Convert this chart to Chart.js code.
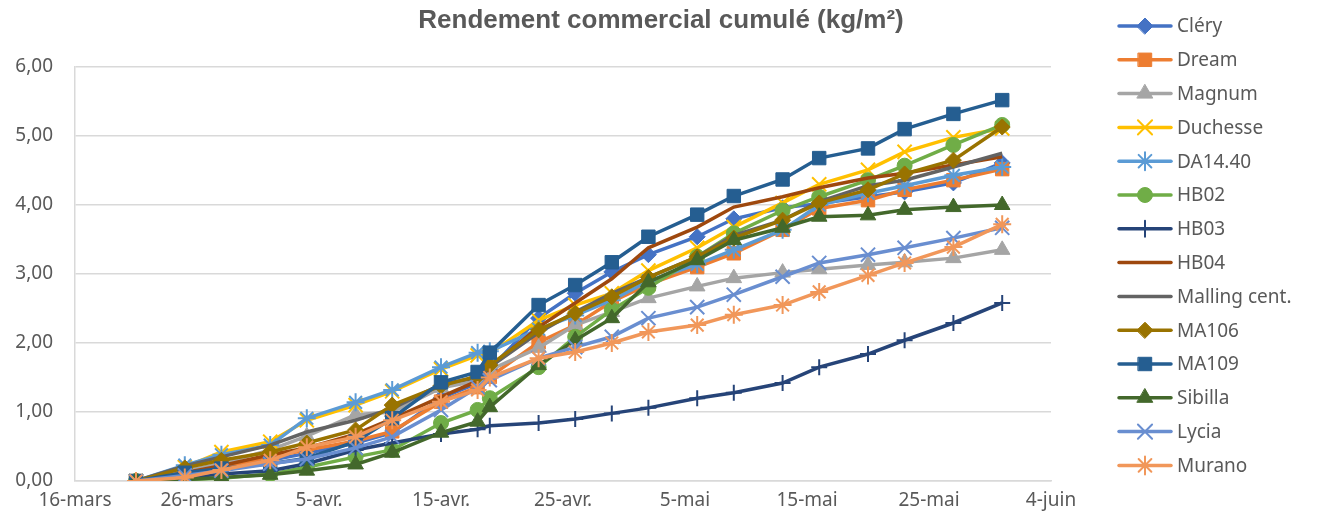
<!DOCTYPE html>
<html>
<head>
<meta charset="utf-8">
<script src="https://cdn.jsdelivr.net/npm/chart.js@4.4.1/dist/chart.umd.min.js"></script>
<style>
  html, body { margin: 0; padding: 0; background: #fff; }
  #wrap { width: 1317px; height: 526px; }
</style>
</head>
<body>
<div id="wrap"><canvas id="chart"></canvas></div>
<script>
// Dates de récolte
const dates = ['2019-03-21', '2019-03-25', '2019-03-28', '2019-04-01', '2019-04-04', '2019-04-08',
               '2019-04-11', '2019-04-15', '2019-04-18', '2019-04-19', '2019-04-23', '2019-04-26',
               '2019-04-29', '2019-05-02', '2019-05-06', '2019-05-09', '2019-05-13', '2019-05-16',
               '2019-05-20', '2019-05-23', '2019-05-27', '2019-05-31'];
const xTickLabels = ['16-mars', '26-mars', '5-avr.', '15-avr.', '25-avr.', '5-mai', '15-mai', '25-mai', '4-juin'];
const yTicks = [0, 1, 2, 3, 4, 5, 6];

// Rendement cumulé (kg/m²) par variété
const clery    = [0, 0.10, 0.22, 0.30, 0.40, 0.55, 0.70, 1.20, 1.42, 1.62, 2.36, 2.72, 3.03, 3.28, 3.54, 3.80, 3.96, 4.02, 4.12, 4.19, 4.32, 4.61];
const dream    = [0, 0.08, 0.20, 0.35, 0.45, 0.58, 0.72, 1.15, 1.36, 1.51, 2.01, 2.26, 2.60, 2.85, 3.10, 3.30, 3.64, 3.95, 4.07, 4.22, 4.36, 4.52];
const magnum   = [0, 0.15, 0.25, 0.45, 0.65, 0.96, 1.00, 1.35, 1.45, 1.61, 1.93, 2.26, 2.45, 2.65, 2.82, 2.94, 3.02, 3.07, 3.13, 3.17, 3.23, 3.35];
const duchesse = [0, 0.20, 0.42, 0.57, 0.88, 1.10, 1.30, 1.62, 1.82, 1.85, 2.33, 2.55, 2.72, 3.05, 3.38, 3.68, 4.03, 4.30, 4.51, 4.77, 4.98, 5.11];
const da1440   = [0, 0.23, 0.38, 0.52, 0.91, 1.14, 1.32, 1.65, 1.86, 1.88, 2.20, 2.40, 2.62, 2.90, 3.14, 3.35, 3.64, 4.00, 4.17, 4.28, 4.43, 4.55];
const hb02     = [0, 0.02, 0.04, 0.10, 0.20, 0.35, 0.45, 0.84, 1.03, 1.20, 1.65, 2.09, 2.48, 2.80, 3.25, 3.59, 3.92, 4.12, 4.36, 4.57, 4.87, 5.16];
const hb03     = [0, 0.05, 0.10, 0.15, 0.25, 0.45, 0.55, 0.68, 0.75, 0.80, 0.84, 0.90, 0.98, 1.06, 1.20, 1.28, 1.42, 1.65, 1.84, 2.04, 2.29, 2.58];
const hb04     = [0, 0.12, 0.22, 0.38, 0.48, 0.68, 0.90, 1.22, 1.45, 1.65, 2.23, 2.58, 2.93, 3.38, 3.68, 3.97, 4.12, 4.25, 4.39, 4.46, 4.58, 4.70];
const malling  = [0, 0.22, 0.35, 0.52, 0.71, 0.88, 1.05, 1.40, 1.50, 1.65, 2.15, 2.45, 2.72, 2.95, 3.25, 3.56, 3.78, 4.05, 4.28, 4.36, 4.55, 4.75];
const ma106    = [0, 0.19, 0.30, 0.42, 0.55, 0.74, 1.10, 1.38, 1.52, 1.68, 2.19, 2.43, 2.67, 2.95, 3.25, 3.52, 3.78, 4.03, 4.22, 4.45, 4.65, 5.13];
const ma109    = [0, 0.12, 0.18, 0.25, 0.33, 0.57, 0.91, 1.43, 1.58, 1.86, 2.55, 2.84, 3.17, 3.54, 3.86, 4.13, 4.37, 4.68, 4.82, 5.10, 5.32, 5.52];
const sibilla  = [0, 0.02, 0.05, 0.09, 0.15, 0.24, 0.41, 0.70, 0.86, 1.07, 1.68, 2.04, 2.36, 2.88, 3.20, 3.49, 3.67, 3.83, 3.85, 3.93, 3.97, 4.00];
const lycia    = [0, 0.08, 0.15, 0.25, 0.32, 0.48, 0.64, 1.03, 1.36, 1.46, 1.78, 1.94, 2.09, 2.36, 2.52, 2.70, 2.96, 3.16, 3.28, 3.38, 3.52, 3.67];
const murano   = [0, 0.05, 0.16, 0.30, 0.49, 0.64, 0.88, 1.15, 1.32, 1.50, 1.78, 1.87, 2.00, 2.16, 2.26, 2.41, 2.55, 2.74, 2.98, 3.16, 3.39, 3.72];

const origin = Date.UTC(2019, 2, 16);
const days = dates.map(d => Math.round((Date.parse(d) - origin) / 86400000));

// nom, valeurs, couleur, marqueur, rayon
const series = [
    ['Cléry', clery, '#4472C4', 'rectRot', 8],
    ['Dream', dream, '#ED7D31', 'rect', 9.5],
    ['Magnum', magnum, '#A5A5A5', 'triangle', 9],
    ['Duchesse', duchesse, '#FFC000', 'crossRot', 10],
    ['DA14.40', da1440, '#5B9BD5', 'star', 9],
    ['HB02', hb02, '#70AD47', 'circle', 7.5],
    ['HB03', hb03, '#264478', 'cross', 8],
    ['HB04', hb04, '#9E480E', false, 0],
    ['Malling cent.', malling, '#636363', false, 0],
    ['MA106', ma106, '#997300', 'rectRot', 8],
    ['MA109', ma109, '#255E91', 'rect', 9.5],
    ['Sibilla', sibilla, '#43682B', 'triangle', 9],
    ['Lycia', lycia, '#698ED0', 'crossRot', 10],
    ['Murano', murano, '#F1975A', 'star', 9]
];

const datasets = series.map(([label, values, color, marker, radius], i) => ({
    label: label,
    data: values.map((v, j) => ({ x: days[j], y: v })),
    borderColor: color,
    backgroundColor: color,
    borderWidth: 3.5,
    pointStyle: marker,
    pointRadius: radius,
    pointBackgroundColor: color,
    pointBorderColor: color,
    pointBorderWidth: (marker === 'cross' || marker === 'crossRot' || marker === 'star') ? 2 : 1,
    tension: 0,
    order: series.length - i // Excel: la dernière série au-dessus
}));

// Titre et légende façon Excel
const excelDecor = {
    id: 'excelDecor',
    afterDraw(chart) {
        const ctx = chart.ctx;
        ctx.save();
        ctx.fillStyle = '#595959';
        ctx.font = 'bold 26px "Liberation Sans", Arial, sans-serif';
        ctx.textAlign = 'center';
        ctx.textBaseline = 'middle';
        ctx.fillText('Rendement commercial cumulé (kg/m²)', 661, 21);

        ctx.font = '19px "Noto Sans", sans-serif';
        ctx.textAlign = 'left';
        chart.data.datasets.forEach((ds, i) => {
            const y = 26 + i * 33.8;
            ctx.strokeStyle = ds.borderColor;
            ctx.lineWidth = 3.5;
            ctx.lineCap = 'round';
            ctx.beginPath();
            ctx.moveTo(1119, y);
            ctx.lineTo(1171, y);
            ctx.stroke();
            if (ds.pointStyle && Chart.helpers && Chart.helpers.drawPoint) {
                ctx.fillStyle = ds.pointBackgroundColor;
                ctx.lineWidth = ds.pointBorderWidth;
                Chart.helpers.drawPoint(ctx, {
                    pointStyle: ds.pointStyle,
                    radius: ds.pointRadius,
                    rotation: 0,
                    borderWidth: ds.pointBorderWidth
                }, 1145, y);
            }
            ctx.fillStyle = '#595959';
            ctx.fillText(ds.label, 1177, y + 1);
        });
        ctx.restore();
    }
};

Chart.defaults.font.family = '"Noto Sans", sans-serif';
Chart.defaults.font.size = 19;
Chart.defaults.color = '#595959';

new Chart(document.getElementById('chart'), {
    type: 'line',
    data: { datasets: datasets },
    options: {
        responsive: true,
        maintainAspectRatio: false,
        animation: false,
        layout: { padding: { top: 67, right: 266, left: 0, bottom: 0 } },
        plugins: {
            legend: { display: false },
            title: { display: false },
            tooltip: { enabled: false }
        },
        scales: {
            x: {
                type: 'linear',
                min: 0,
                max: 80,
                afterFit: s => { s.height = 45; },
                afterBuildTicks: s => { s.ticks = xTickLabels.map((t, i) => ({ value: i * 10 })); },
                ticks: {
                    padding: 8,
                    maxRotation: 0,
                    autoSkip: false,
                    callback: (v, i) => xTickLabels[i]
                },
                grid: { display: false, drawTicks: false },
                border: { display: true, color: '#D9D9D9', width: 1.5 }
            },
            y: {
                min: 0,
                max: 6,
                afterFit: s => { s.width = 75; },
                afterBuildTicks: s => { s.ticks = yTicks.map(v => ({ value: v })); },
                ticks: {
                    padding: 22,
                    callback: v => v.toFixed(2).replace('.', ',')
                },
                grid: { color: '#D9D9D9', lineWidth: 1.5, drawTicks: false },
                border: { display: true, color: '#D9D9D9', width: 1.5 }
            }
        }
    },
    plugins: [excelDecor]
});
</script>
</body>
</html>
